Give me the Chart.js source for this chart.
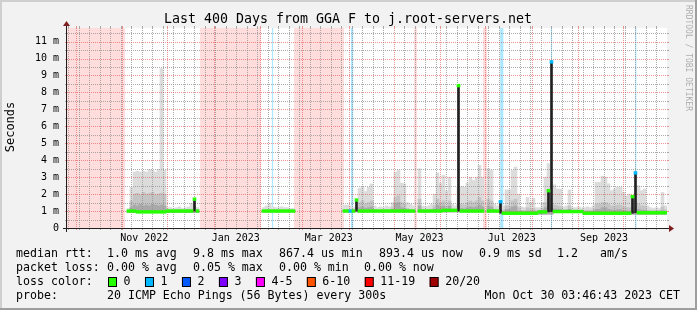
<!DOCTYPE html>
<html>
<head>
<meta charset="utf-8">
<script src="https://cdn.jsdelivr.net/npm/chart.js@4.4.0/dist/chart.umd.min.js"></script>
<style>
  html, body { margin: 0; padding: 0; background: #f2f2f2; }
  canvas { display: block; }
</style>
</head>
<body>
<canvas id="chart" width="697" height="310"></canvas>
<script>
const N = null;

// 400 days, one bin = 2 days -> 200 bins (values in ms)
const binDays = 2;
const totalDays = 400;
const yMax = 11.8;

const pingMax = [
  N,N,N,N,N,N,N,N,N,N,
  N,N,N,N,N,N,N,N,N,N,
  1.15,2.4,3.3,3.35,3.3,3.35,3.3,3.45,3.4,3.3,
  3.45,9.4,3.4,1.2,1.2,1.15,1.2,1.25,1.15,1.2,
  1.25,1.45,1.3,1.2,N,N,N,N,N,N,
  N,N,N,N,N,N,N,N,N,N,
  N,N,N,N,N,1.2,1.3,1.45,1.25,1.2,
  1.2,1.25,1.2,1.2,1.15,1.15,N,N,N,N,
  N,N,N,N,N,N,N,N,N,N,
  N,N,1.35,1.35,1.3,1.2,1.25,2.35,2.45,2.15,
  2.4,2.6,1.3,1.2,1.25,1.2,1.3,1.25,1.5,3.3,
  3.4,2.65,2.6,1.5,1.4,1.3,N,3.5,1.3,1.25,
  1.3,1.4,2.0,3.25,2.65,3.1,2.2,3.0,1.4,1.3,
  2.45,2.45,2.4,2.65,3.0,2.8,3.0,3.7,3.0,N,
  3.5,3.4,1.4,1.3,1.4,1.3,2.25,2.25,3.4,3.6,
  2.0,1.25,1.2,1.8,1.5,1.75,1.2,1.2,1.5,3.0,
  3.8,2.55,2.55,2.3,2.3,1.25,1.3,2.25,1.2,1.2,
  1.25,1.2,1.2,1.25,1.2,1.3,2.7,2.7,3.05,3.0,
  2.6,2.2,2.3,2.4,2.4,2.1,1.9,2.0,1.9,2.0,
  2.5,2.2,2.3,1.3,1.2,1.15,1.2,1.15,2.1,1.3
];

const pingUpper = [
  N,N,N,N,N,N,N,N,N,N,
  N,N,N,N,N,N,N,N,N,N,
  1.05,1.6,2.0,2.05,1.95,2.1,2.0,2.05,2.1,1.95,
  2.0,2.05,2.0,1.1,1.08,1.06,1.08,1.1,1.06,1.08,
  1.1,1.12,1.1,1.08,N,N,N,N,N,N,
  N,N,N,N,N,N,N,N,N,N,
  N,N,N,N,N,1.06,1.08,1.1,1.08,1.06,
  1.06,1.08,1.06,1.06,1.05,1.05,N,N,N,N,
  N,N,N,N,N,N,N,N,N,N,
  N,N,1.1,1.1,1.08,1.06,1.08,1.5,1.6,1.4,
  1.5,1.6,1.1,1.06,1.08,1.06,1.1,1.08,1.2,1.8,
  1.9,1.5,1.4,1.15,1.1,1.08,N,1.7,1.1,1.08,
  1.1,1.12,1.3,1.7,1.5,1.6,1.3,1.6,1.12,1.1,
  1.4,1.4,1.35,1.5,1.6,1.5,1.6,1.8,1.6,N,
  1.7,1.6,1.12,1.08,1.1,1.05,1.3,1.3,1.6,1.7,
  1.2,1.05,1.04,1.2,1.1,1.15,1.04,1.05,1.15,1.5,
  1.7,1.4,1.35,1.3,1.25,1.08,1.1,1.3,1.06,1.05,
  1.06,1.05,1.04,1.06,1.04,1.08,1.4,1.4,1.5,1.5,
  1.4,1.3,1.3,1.35,1.35,1.25,1.2,1.2,1.2,1.25,
  1.4,1.3,1.3,1.06,1.04,1.04,1.05,1.04,1.25,1.08
];

const pingInner = [
  N,N,N,N,N,N,N,N,N,N,
  N,N,N,N,N,N,N,N,N,N,
  1.02,1.2,1.35,1.3,1.4,1.3,1.35,1.3,1.4,1.35,
  1.3,1.35,1.3,1.02,1.03,1.03,1.03,1.03,1.03,1.03,
  1.03,1.03,1.03,1.03,N,N,N,N,N,N,
  N,N,N,N,N,N,N,N,N,N,
  N,N,N,N,N,1.02,1.02,1.02,1.02,1.02,
  1.02,1.02,1.02,1.02,1.02,1.02,N,N,N,N,
  N,N,N,N,N,N,N,N,N,N,
  N,N,1.04,1.04,1.03,1.02,1.03,1.2,1.25,1.15,
  1.2,1.25,1.03,1.02,1.03,1.02,1.04,1.03,1.08,1.45,
  1.5,1.2,1.15,1.06,1.04,1.03,N,1.3,1.04,1.03,
  1.04,1.05,1.12,1.35,1.25,1.3,1.12,1.3,1.05,1.04,
  1.15,1.15,1.12,1.2,1.25,1.2,1.25,1.35,1.25,N,
  1.3,1.25,1.05,1.03,1.04,0.98,1.1,1.1,1.25,1.3,
  1.0,0.97,0.96,1.0,0.98,1.0,0.96,0.97,1.05,1.2,
  1.3,1.15,1.12,1.1,1.08,1.02,1.03,1.1,1.01,1.0,
  1.01,1.0,0.96,0.97,0.96,0.98,1.1,1.1,1.2,1.2,
  1.1,1.05,1.05,1.08,1.08,1.02,1.0,1.0,1.0,1.02,
  1.1,1.05,1.05,0.98,0.97,0.97,0.98,0.97,1.02,0.98
];

const pingMin = [
  N,N,N,N,N,N,N,N,N,N,
  N,N,N,N,N,N,N,N,N,N,
  0.92,0.92,0.92,0.92,0.92,0.92,0.92,0.92,0.92,0.92,
  0.92,0.92,0.92,0.92,0.92,0.92,0.92,0.92,0.92,0.92,
  0.92,0.92,0.92,0.92,N,N,N,N,N,N,
  N,N,N,N,N,N,N,N,N,N,
  N,N,N,N,N,0.95,0.95,0.95,0.95,0.95,
  0.95,0.95,0.95,0.95,0.95,0.95,N,N,N,N,
  N,N,N,N,N,N,N,N,N,N,
  N,N,0.95,0.95,0.95,0.95,0.95,0.95,0.95,0.95,
  0.95,0.95,0.95,0.95,0.95,0.95,0.95,0.95,0.95,0.95,
  0.95,0.95,0.95,0.95,0.95,0.95,N,0.95,0.95,0.95,
  0.95,0.95,0.95,0.95,0.95,0.95,0.95,0.95,0.95,0.95,
  0.95,0.95,0.95,0.95,0.95,0.95,0.95,0.95,0.95,N,
  0.95,0.95,0.95,0.95,0.95,0.82,0.82,0.82,0.82,0.82,
  0.82,0.82,0.82,0.82,0.82,0.82,0.82,0.82,0.82,0.82,
  0.82,0.82,0.92,0.92,0.92,0.92,0.92,0.92,0.92,0.92,
  0.92,0.92,0.82,0.82,0.82,0.82,0.82,0.82,0.82,0.82,
  0.82,0.82,0.82,0.82,0.82,0.82,0.82,0.82,0.82,0.82,
  0.82,0.82,0.82,0.82,0.82,0.82,0.82,0.82,0.82,0.82
];

const median = [
  N,N,N,N,N,N,N,N,N,N,
  N,N,N,N,N,N,N,N,N,N,
  1.0,1.0,1.0,0.95,0.95,0.95,0.95,0.95,0.95,0.95,
  0.95,0.95,0.95,1.0,1.0,1.0,1.0,1.0,1.0,1.0,
  1.0,1.0,1.7,1.0,N,N,N,N,N,N,
  N,N,N,N,N,N,N,N,N,N,
  N,N,N,N,N,1.0,1.0,1.0,1.0,1.0,
  1.0,1.0,1.0,1.0,1.0,1.0,N,N,N,N,
  N,N,N,N,N,N,N,N,N,N,
  N,N,1.0,1.0,1.0,1.0,1.65,1.0,1.0,1.0,
  1.0,1.0,1.0,1.0,1.0,1.0,1.0,1.0,1.0,1.0,
  1.0,1.0,1.0,1.0,1.0,1.0,N,1.0,1.0,1.0,
  1.0,1.0,1.0,1.0,1.0,1.04,1.04,1.04,1.04,1.04,
  8.4,1.0,1.0,1.0,1.0,1.0,1.0,1.0,1.0,N,
  1.0,1.0,1.0,1.0,1.55,0.87,0.87,0.87,0.87,0.87,
  0.87,0.87,0.87,0.87,0.87,0.87,0.87,0.95,0.95,0.95,
  2.2,9.8,0.97,0.97,0.97,0.97,0.97,0.97,0.97,0.97,
  0.97,0.97,0.87,0.87,0.87,0.87,0.87,0.87,0.87,0.87,
  0.87,0.87,0.87,0.87,0.87,0.87,0.87,0.87,1.85,3.25,
  0.9,0.9,0.9,0.9,0.9,0.9,0.9,0.9,0.9,0.9
];

// bins where the median had lost pings
const lossBins = [94, 144, 161, 189];
const lossCounts = [1, 1, 1, 1];

// unknown (no data) periods and loss background, in days from start
const unknownFrom = [0, 88.7, 151.3, 231.3, 277.3];
const unknownTo = [38.7, 129.3, 184.7, 233.3, 280];
const lossFrom = [136.6, 189.3, 288.8, 322.6, 378.8];
const lossTo = [137.4, 190.8, 290.9, 323.4, 379.6];

const monthStarts = [6, 37, 67, 98, 129, 157, 188, 218, 249, 279, 310, 341, 371];
const firstMonday = 1;
const labelDays = [51.5, 112.5, 174.5, 235, 296.5, 358];
const monthLabels = ["Nov 2022", "Jan 2023", "Mar 2023", "May 2023", "Jul 2023", "Sep 2023"];
const yTicks = [0, 1, 2, 3, 4, 5, 6, 7, 8, 9, 10, 11];

const lossColors = ["#26ff00", "#00b8ff", "#0059ff", "#7e00ff", "#ff00ff", "#ff5500", "#ff0000", "#a10000"];
const lossLabels = ["0", "1", "2", "3", "4-5", "6-10", "11-19", "20/20"];

const MONO = '"DejaVu Sans Mono", "Liberation Mono", monospace';
const W = 697, H = 310;

function binX(i) {
  return i * binDays + binDays / 2;
}

function floatBars(lo, hi) {
  const out = [];
  hi.forEach((v, i) => {
    if (v === null || lo[i] === null) return;
    out.push({ x: binX(i), y: [lo[i], v] });
  });
  return out;
}

const medianBars = [];
median.forEach((m, i) => {
  if (m === null) return;
  const k = lossBins.indexOf(i);
  medianBars.push({ x: binX(i), y: [m - 0.08, m + 0.08], loss: k >= 0 ? lossCounts[k] : 0 });
});

// vertical connectors where the median jumps up
const spikeBars = [];
median.forEach((m, i) => {
  if (m === null) return;
  const nb = [median[i - 1], median[i + 1]].filter((v) => v !== null && v !== undefined);
  if (!nb.length) return;
  const lo = Math.min(...nb);
  if (m - lo > 0.2) spikeBars.push({ x: binX(i), y: [lo, m] });
});

const frame = {
  id: "frame",
  beforeDraw(chart) {
    const ctx = chart.ctx;
    const a = chart.chartArea;
    ctx.save();
    ctx.fillStyle = "#f2f2f2";
    ctx.fillRect(0, 0, W, H);
    ctx.fillStyle = "#cfcfcf";
    ctx.fillRect(0, 0, W, 2);
    ctx.fillRect(0, 0, 2, H);
    ctx.fillStyle = "#9e9e9e";
    ctx.fillRect(0, H - 2, W, 2);
    ctx.fillRect(W - 2, 0, 2, H);
    ctx.fillStyle = "#ffffff";
    ctx.fillRect(a.left, a.top, a.right - a.left, a.bottom - a.top);
    ctx.restore();
  },
};

const bands = {
  id: "bands",
  beforeDatasetsDraw(chart) {
    const ctx = chart.ctx;
    const a = chart.chartArea;
    const x = chart.scales.x;
    ctx.save();
    const draw = (from, to, color) => {
      from.forEach((f, i) => {
        const x0 = x.getPixelForValue(f);
        const x1 = x.getPixelForValue(to[i]);
        ctx.fillStyle = color;
        ctx.fillRect(x0, a.top, Math.max(1, x1 - x0), a.bottom - a.top);
      });
    };
    draw(unknownFrom, unknownTo, "#ffdddd");
    draw(lossFrom, lossTo, "rgba(0,184,255,0.33)");
    ctx.restore();
  },
};

const grid = {
  id: "grid",
  afterDatasetDraw(chart, args) {
    if (chart.data.datasets[args.index].label !== "inner") return;
    const ctx = chart.ctx;
    const a = chart.chartArea;
    const x = chart.scales.x;
    const y = chart.scales.y;
    const minor = "rgba(143,143,143,0.75)";
    const major = "rgba(222,79,79,0.6)";
    ctx.save();
    ctx.lineWidth = 1;

    const hline = (v, color) => {
      const py = Math.round(y.getPixelForValue(v)) + 0.5;
      ctx.strokeStyle = color;
      ctx.setLineDash([]);
      ctx.beginPath();
      ctx.moveTo(a.left - 2, py); ctx.lineTo(a.left, py);
      ctx.moveTo(a.right, py); ctx.lineTo(a.right + 2, py);
      ctx.stroke();
      ctx.setLineDash([1, 1]);
      ctx.beginPath();
      ctx.moveTo(a.left, py); ctx.lineTo(a.right, py);
      ctx.stroke();
    };
    const vline = (d, color) => {
      const px = Math.floor(x.getPixelForValue(d)) + 0.5;
      ctx.strokeStyle = color;
      ctx.setLineDash([]);
      ctx.beginPath();
      ctx.moveTo(px, a.top - 2); ctx.lineTo(px, a.top);
      ctx.moveTo(px, a.bottom); ctx.lineTo(px, a.bottom + 2);
      ctx.stroke();
      ctx.setLineDash([1, 1]);
      ctx.beginPath();
      ctx.moveTo(px, a.top); ctx.lineTo(px, a.bottom);
      ctx.stroke();
    };

    for (let v = 0.5; v < yMax; v += 1) hline(v, minor);
    for (let d = firstMonday; d < totalDays; d += 7) {
      if (monthStarts.indexOf(d) < 0) vline(d, minor);
    }
    yTicks.forEach((v) => { if (v > 0) hline(v, major); });
    monthStarts.forEach((d) => vline(d, major));
    ctx.restore();
  },
};

const axes = {
  id: "axes",
  afterDatasetsDraw(chart) {
    const ctx = chart.ctx;
    const a = chart.chartArea;
    ctx.save();
    ctx.strokeStyle = "#1f1f1f";
    ctx.lineWidth = 1;
    ctx.beginPath();
    ctx.moveTo(a.left - 4, a.bottom + 0.5);
    ctx.lineTo(a.right + 4, a.bottom + 0.5);
    ctx.moveTo(a.left - 0.5, a.bottom + 4);
    ctx.lineTo(a.left - 0.5, a.top - 4);
    ctx.stroke();
    ctx.fillStyle = "#801f1f";
    ctx.beginPath();
    ctx.moveTo(a.right + 2, a.bottom - 3);
    ctx.lineTo(a.right + 2, a.bottom + 4);
    ctx.lineTo(a.right + 7, a.bottom + 0.5);
    ctx.closePath();
    ctx.fill();
    ctx.beginPath();
    ctx.moveTo(a.left - 4, a.top - 2);
    ctx.lineTo(a.left + 3, a.top - 2);
    ctx.lineTo(a.left - 0.5, a.top - 7);
    ctx.closePath();
    ctx.fill();
    ctx.restore();
  },
};

const texts = {
  id: "texts",
  afterDraw(chart) {
    const ctx = chart.ctx;
    ctx.save();
    ctx.fillStyle = "#000";
    ctx.textBaseline = "middle";

    ctx.font = "13.3px " + MONO;
    ctx.textAlign = "center";
    ctx.fillText("Last 400 Days from GGA F to j.root-servers.net", 348, 20);

    ctx.save();
    ctx.font = "12px " + MONO;
    ctx.translate(11, 127);
    ctx.rotate(-Math.PI / 2);
    ctx.fillText("Seconds", 0, 0);
    ctx.restore();

    ctx.save();
    ctx.font = "8px " + MONO;
    ctx.fillStyle = "rgba(0,0,0,0.3)";
    ctx.textAlign = "left";
    ctx.translate(688.5, 5);
    ctx.rotate(Math.PI / 2);
    ctx.fillText("RRDTOOL / TOBI OETIKER", 0, 0);
    ctx.restore();

    ctx.font = "11.6px " + MONO;
    ctx.textAlign = "left";
    const rows = [
      [254, [["median rtt:", 16], ["1.0 ms avg", 107], ["9.8 ms max", 193], ["867.4 us min", 279],
             ["893.4 us now", 379], ["0.9 ms sd", 479], ["1.2", 557], ["am/s", 600]]],
      [268, [["packet loss:", 16], ["0.00 % avg", 107], ["0.05 % max", 193], ["0.00 % min", 279], ["0.00 % now", 364]]],
      [282, [["loss color:", 16]]],
      [296, [["probe:", 16], ["20 ICMP Echo Pings (56 Bytes) every 300s", 107]]],
    ];
    rows.forEach(([ry, parts]) => parts.forEach(([t, tx]) => ctx.fillText(t, tx, ry)));

    let bx = 108;
    lossLabels.forEach((lab, i) => {
      ctx.fillStyle = lossColors[i];
      ctx.fillRect(bx, 277, 8.5, 9.5);
      ctx.strokeStyle = "#000";
      ctx.lineWidth = 1;
      ctx.strokeRect(bx + 0.5, 277.5, 8, 9);
      ctx.fillStyle = "#000";
      const lx = bx + 15.5;
      ctx.fillText(lab, lx, 282);
      bx = lx + ctx.measureText(lab).width + 14.5;
    });

    ctx.textAlign = "right";
    ctx.fillText("Mon Oct 30 03:46:43 2023 CET", 680, 296);
    ctx.restore();
  },
};

const barBase = { grouped: false, borderWidth: 0, barPercentage: 1, categoryPercentage: 1 };

new Chart(document.getElementById("chart"), {
  type: "bar",
  data: {
    datasets: [
      { ...barBase, label: "median", data: medianBars, order: 1,
        backgroundColor: (c) => lossColors[(c.raw && c.raw.loss) || 0] },
      { ...barBase, label: "spikes", data: spikeBars, order: 2, barThickness: 2, backgroundColor: "#202020" },
      { ...barBase, label: "inner", data: floatBars(pingMin, pingInner), order: 3, backgroundColor: "#a9a9a9" },
      { ...barBase, label: "upper", data: floatBars(pingMin, pingUpper), order: 4, backgroundColor: "#c4c4c4" },
      { ...barBase, label: "max", data: floatBars(pingMin, pingMax), order: 5, backgroundColor: "#dcdcdc" },
    ],
  },
  options: {
    responsive: false,
    animation: false,
    events: [],
    layout: { padding: { left: 0, right: 30, top: 28, bottom: 60 } },
    plugins: { legend: { display: false }, tooltip: { enabled: false }, title: { display: false } },
    scales: {
      x: {
        type: "linear",
        min: 0,
        max: totalDays,
        offset: false,
        grid: { display: false, drawTicks: false },
        border: { display: false },
        afterBuildTicks: (s) => { s.ticks = labelDays.map((v) => ({ value: v })); },
        afterFit: (s) => { s.height = 22; },
        ticks: {
          autoSkip: false,
          maxRotation: 0,
          padding: 4,
          color: "#000",
          font: { family: MONO, size: 10 },
          callback: (v, i) => monthLabels[i],
        },
      },
      y: {
        type: "linear",
        min: 0,
        max: yMax,
        grid: { display: false, drawTicks: false },
        border: { display: false },
        afterBuildTicks: (s) => { s.ticks = yTicks.map((v) => ({ value: v })); },
        afterFit: (s) => { s.width = 67; },
        ticks: {
          padding: 8,
          color: "#000",
          font: { family: MONO, size: 10 },
          callback: (v) => (v === 0 ? "0" : v + " m"),
        },
      },
    },
  },
  plugins: [frame, bands, grid, axes, texts],
});
</script>
</body>
</html>
